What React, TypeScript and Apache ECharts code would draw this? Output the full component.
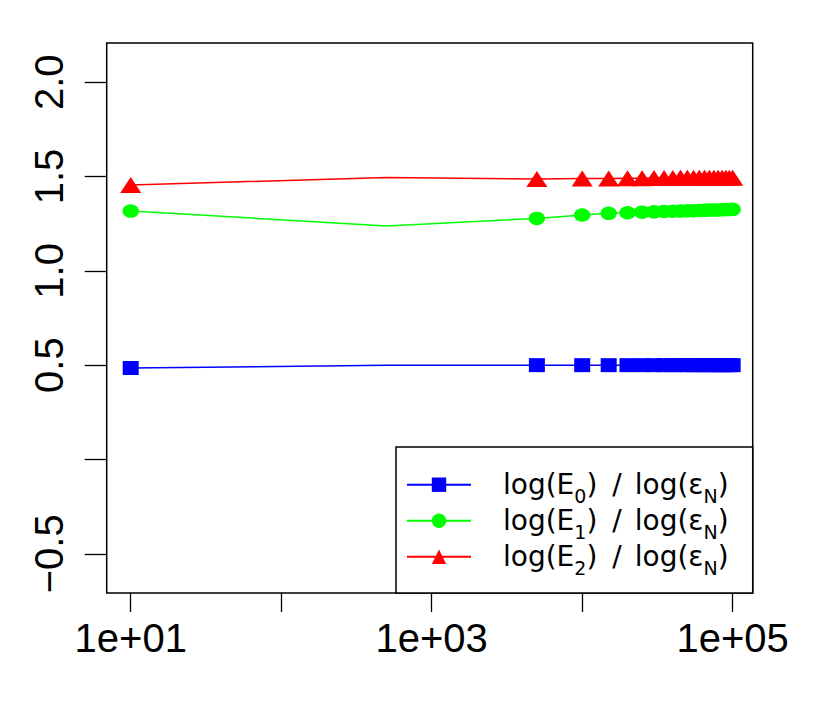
import React, { useEffect, useRef } from 'react';
import * as echarts from 'echarts';

// ---- data ----
const xValues = [10, 500, 5000, 10000, 15000, 20000, 25000, 30000, 35000, 40000, 45000, 50000, 55000, 60000, 65000, 70000, 75000, 80000, 85000, 90000, 95000, 100000];
const hiddenMarkerX = [500];
const e0Ratio = [0.485, 0.499, 0.5, 0.5, 0.5, 0.5, 0.5, 0.5, 0.5, 0.5, 0.5, 0.5, 0.5, 0.5, 0.5, 0.5, 0.5, 0.5, 0.5, 0.5, 0.5, 0.5];
const e1Ratio = [1.317, 1.238, 1.278, 1.296, 1.305, 1.308, 1.311, 1.313, 1.315, 1.316, 1.317, 1.318, 1.319, 1.32, 1.321, 1.322, 1.322, 1.323, 1.324, 1.325, 1.325, 1.326];
const e2Ratio = [1.455, 1.495, 1.487, 1.489, 1.49, 1.491, 1.491, 1.492, 1.492, 1.492, 1.493, 1.493, 1.493, 1.493, 1.494, 1.494, 1.494, 1.494, 1.494, 1.494, 1.494, 1.494];
const seriesNames = ['log(E0)/log(εN)', 'log(E1)/log(εN)', 'log(E2)/log(εN)'];
const seriesSubs = ['0', '1', '2'];
const xTickValues = [10, 100, 1000, 10000, 100000];
const xLabelValues = [10, 1000, 100000];
const yTickValues = [-0.5, 0, 0.5, 1, 1.5, 2];
const yLabelValues = [-0.5, 0.5, 1, 1.5, 2];

const AXIS_FONT = '"Liberation Sans", Arial, Helvetica, sans-serif';
const LEGEND_FONT = '"DejaVu Sans", "Liberation Sans", sans-serif';

function sci(v: number): string {
  const e = Math.round(v);
  return '1e+' + String(e).padStart(2, '0');
}

function makeSeries(name: string, ys: number[], color: string, symbol: string, size: number[]) {
  return {
    name,
    type: 'line',
    symbol,
    symbolSize: size,
    showSymbol: true,
    itemStyle: { color },
    lineStyle: { color, width: 1.5 },
    data: xValues.map((x, i) => {
      const item: any = { value: [Math.log10(x), ys[i]] };
      if (hiddenMarkerX.includes(x)) item.symbol = 'none';
      return item;
    }),
  };
}

export default function App() {
  const ref = useRef<HTMLDivElement>(null);
  useEffect(() => {
    if (!ref.current) return;
    const chart = echarts.init(ref.current, undefined, { renderer: 'svg' });
    const mainPad = [6.6, 0, 7, 0];
    chart.setOption({
      animation: false,
      backgroundColor: '#ffffff',
      grid: {
        left: 106.7,
        right: 77.3,
        top: 43,
        bottom: 113,
        show: true,
        borderColor: '#000',
        borderWidth: 1.5,
        backgroundColor: 'transparent',
      },
      xAxis: {
        type: 'value',
        min: 0.8405,
        max: 5.133,
        position: 'bottom',
        axisLine: { show: false, onZero: false },
        splitLine: { show: false },
        axisTick: {
          show: true,
          inside: false,
          length: 19,
          lineStyle: { color: '#000', width: 1.3 },
          customValues: xTickValues.map((v) => Math.log10(v)),
        },
        axisLabel: {
          customValues: xLabelValues.map((v) => Math.log10(v)),
          formatter: (v: number) => sci(v),
          fontSize: 40,
          fontFamily: AXIS_FONT,
          color: '#000',
          margin: 25,
        },
      },
      yAxis: {
        type: 'value',
        min: -0.708,
        max: 2.208,
        position: 'left',
        axisLine: { show: false, onZero: false },
        splitLine: { show: false },
        axisTick: {
          show: true,
          inside: false,
          length: 22,
          lineStyle: { color: '#000', width: 1.3 },
          customValues: yTickValues,
        },
        axisLabel: {
          customValues: yLabelValues,
          rotate: 90,
          formatter: (v: number) => (v < 0 ? '\u2212' + Math.abs(v).toFixed(1) : v.toFixed(1)),
          fontSize: 40,
          fontFamily: AXIS_FONT,
          color: '#000',
          margin: 38,
        },
      },
      graphic: [
        {
          type: 'rect',
          z: 3,
          shape: { x: 396, y: 447, width: 356.7, height: 146 },
          style: { fill: '#fff', stroke: '#000', lineWidth: 1.5 },
        },
      ],
      legend: {
        orient: 'vertical',
        left: 406,
        top: 470.5,
        padding: 0,
        itemGap: 1,
        itemWidth: 64,
        itemHeight: 18,
        selectedMode: false,
        data: seriesNames,
        formatter: (name: string) => {
          const i = seriesNames.indexOf(name);
          return `{f|log(E}{s|${seriesSubs[i]}}{a|)}{sl|/}{a|log(ε}{s|N}{a|)}`;
        },
        textStyle: {
          color: '#000',
          fontFamily: LEGEND_FONT,
          fontSize: 28,
          rich: {
            f: { fontSize: 28, fontFamily: LEGEND_FONT, verticalAlign: 'top', padding: [mainPad[0], 0, mainPad[2], 27] },
            a: { fontSize: 28, fontFamily: LEGEND_FONT, verticalAlign: 'top', padding: mainPad },
            sl: { fontSize: 28, fontFamily: LEGEND_FONT, verticalAlign: 'top', padding: [mainPad[0], 13, mainPad[2], 15] },
            s: { fontSize: 19, fontFamily: LEGEND_FONT, verticalAlign: 'bottom' },
          },
        },
      },
      series: [
        makeSeries(seriesNames[0], e0Ratio, '#0000ff', 'rect', [16, 14]),
        makeSeries(seriesNames[1], e1Ratio, '#00ff00', 'circle', [16.5, 13.5]),
        makeSeries(seriesNames[2], e2Ratio, '#ff0000', 'triangle', [21, 16]),
      ],
    });
    return () => chart.dispose();
  }, []);
  return <div ref={ref} style={{ position: 'absolute', left: 0, top: 0, width: 830, height: 706 }} />;
}
